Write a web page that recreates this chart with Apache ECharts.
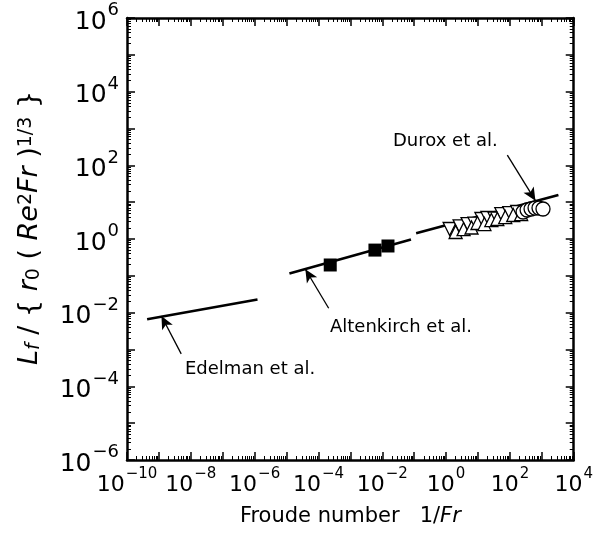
<!DOCTYPE html>
<html><head><meta charset="utf-8">
<script src="https://cdn.jsdelivr.net/npm/echarts@6/dist/echarts.min.js"></script>
<style>html,body{margin:0;padding:0;background:#fff}#c{width:596px;height:546px}</style>
</head><body><div id="c"></div>
<script>
// ---- axis ticks ----
const xDecades = [1e-10,1e-9,1e-8,1e-7,1e-6,1e-5,1e-4,1e-3,1e-2,1e-1,1,10,100,1000,1e4];
const xLabelTicks = [1e-10,1e-8,1e-6,1e-4,1e-2,1,100,1e4];
const yDecades = [1e-6,1e-5,1e-4,1e-3,1e-2,1e-1,1,10,100,1000,1e4,1e5,1e6];
const yLabelTicks = [1e-6,1e-4,1e-2,1,100,1e4,1e6];

// ---- data ----
const edelmanLine = [[4.27e-10, 0.0066], [1.23e-6, 0.0229]];
const altenkirchLine = [[1.23e-5, 0.116], [0.0794, 0.968]];
const duroxLine = [[0.115, 1.43], [3311, 15.6]];
const altenkirchSquares = [[2.34e-4, 0.197], [5.89e-3, 0.50], [0.0151, 0.646]];
const duroxTrianglesDown = [[1.29,1.87],[2.65,2.20],[4.70,2.55],[7.76,2.60],[12.8,3.49],[19.7,3.72],[32.5,3.60],[53.7,4.76],[95.3,5.07],[169,5.41]];
const duroxTrianglesUp = [[1.99,1.55],[3.53,1.85],[6.27,2.05],[9.62,2.72],[15.9,2.55],[26.2,3.27],[40.3,3.49],[71.4,3.95],[127,4.48],[225,4.76]];
const duroxCircles = [[259,5.41],[346,6.12],[460,6.52],[614,6.93],[817,6.93],[1089,6.52]];
// annotation arrows: [tail, head] in data units
const duroxArrow = [[83, 190], [631, 11.0]];
const altenkirchArrow = [[2.09e-4, 0.0132], [3.89e-5, 0.151]];
const edelmanArrow = [[5.0e-9, 7.6e-4], [1.2e-9, 8.1e-3]];

function minorTicks(decades) {
  const out = [];
  for (let i = 0; i < decades.length - 1; i++) {
    for (let k = 2; k <= 9; k++) out.push(k * decades[i]);
  }
  return out;
}
const xMinor = minorTicks(xDecades);
const yMinor = minorTicks(yDecades);

const FONT = 'DejaVu Sans';
function expLabel(v) {
  const e = Math.round(Math.log10(v));
  return '{b|10}{s|' + String(e).replace('-', '\u2212') + '}';
}
const xTickRich = {
  b: { fontSize: 22, fontFamily: FONT, color: '#000', padding: [7, 0, 0, 0] },
  s: { fontSize: 15, fontFamily: FONT, color: '#000', verticalAlign: 'top', padding: [0, 0, 0, 1] }
};
const yTickRich = {
  b: { fontSize: 25, fontFamily: FONT, color: '#000', padding: [8, 0, 0, 0] },
  s: { fontSize: 18, fontFamily: FONT, color: '#000', verticalAlign: 'top', padding: [0, 0, 0, 1] }
};

const black = '#000';
function axisBase(extra) {
  return Object.assign({
    type: 'log', logBase: 10,
    splitLine: { show: false },
    axisLine: { show: true, onZero: false, lineStyle: { color: black, width: 2.5 } },
  }, extra);
}

const xAxes = [
  axisBase({
    min: 1e-10, max: 1e4, position: 'bottom',
    axisTick: { inside: true, length: 8, customValues: xDecades, lineStyle: { color: black, width: 1.5 } },
    axisLabel: { customValues: xLabelTicks, formatter: expLabel, rich: xTickRich, margin: 7 },
    name: '{n|Froude number   1/}{i|Fr}',
    nameLocation: 'middle', nameGap: 46,
    nameTextStyle: { fontFamily: FONT, fontSize: 21, color: black,
      rich: { n: { fontFamily: FONT, fontSize: 21, color: black }, i: { fontFamily: FONT, fontSize: 21, fontStyle: 'italic', color: black } } }
  }),
  axisBase({ min: 1e-10, max: 1e4, position: 'bottom', axisLine: { show: false },
    axisTick: { inside: true, length: 4, customValues: xMinor, lineStyle: { color: black, width: 1 } },
    axisLabel: { show: false } }),
  axisBase({ min: 1e-10, max: 1e4, position: 'top',
    axisTick: { inside: true, length: 8, customValues: xDecades, lineStyle: { color: black, width: 1.5 } },
    axisLabel: { show: false } }),
  axisBase({ min: 1e-10, max: 1e4, position: 'top', axisLine: { show: false },
    axisTick: { inside: true, length: 4, customValues: xMinor, lineStyle: { color: black, width: 1 } },
    axisLabel: { show: false } })
];

const NS = 27, SS = 19;
const yNameRich = {
  n: { fontFamily: FONT, fontSize: NS, color: black, lineHeight: NS, padding: [6, 0, 5, 0] },
  i: { fontFamily: FONT, fontSize: NS, fontStyle: 'italic', color: black, lineHeight: NS, padding: [6, 0, 5, 0] },
  sub: { fontFamily: FONT, fontSize: SS, color: black, verticalAlign: 'bottom', lineHeight: SS },
  subi: { fontFamily: FONT, fontSize: SS, fontStyle: 'italic', color: black, verticalAlign: 'bottom', lineHeight: SS },
  sup: { fontFamily: FONT, fontSize: SS, color: black, verticalAlign: 'top', lineHeight: SS }
};

const yAxes = [
  axisBase({
    min: 1e-6, max: 1e6, position: 'left',
    axisTick: { inside: true, length: 8, customValues: yDecades, lineStyle: { color: black, width: 1.5 } },
    axisLabel: { customValues: yLabelTicks, formatter: expLabel, rich: yTickRich, margin: 8 },
    name: '{i|L}{subi|f}{n| / { }{i|r}{sub|0}{n| ( }{i|Re}{sup|2}{i|Fr}{n| )}{sup|1/3}{n| \u007d}',
    nameLocation: 'middle', nameGap: 79, nameRotate: 90,
    nameTextStyle: { fontFamily: FONT, fontSize: NS, color: black, rich: yNameRich, padding: [0, 0, 0, 22] }
  }),
  axisBase({ min: 1e-6, max: 1e6, position: 'left', axisLine: { show: false },
    axisTick: { inside: true, length: 4, customValues: yMinor, lineStyle: { color: black, width: 1 } },
    axisLabel: { show: false } }),
  axisBase({ min: 1e-6, max: 1e6, position: 'right',
    axisTick: { inside: true, length: 8, customValues: yDecades, lineStyle: { color: black, width: 1.5 } },
    axisLabel: { show: false } }),
  axisBase({ min: 1e-6, max: 1e6, position: 'right', axisLine: { show: false },
    axisTick: { inside: true, length: 4, customValues: yMinor, lineStyle: { color: black, width: 1 } },
    axisLabel: { show: false } })
];

function lineSeries(data) {
  return { type: 'line', data: data, showSymbol: false, symbol: 'none', silent: true,
    lineStyle: { color: black, width: 2.6 }, animation: false, z: 3 };
}
function arrowMark(arr) {
  return { silent: true, symbol: ['none', 'arrow'], symbolSize: [9, 13], animation: false,
    label: { show: false }, lineStyle: { color: black, width: 1.3, type: 'solid', opacity: 1 },
    itemStyle: { color: black, opacity: 1 },
    data: [[{ coord: arr[0] }, { coord: arr[1] }]] };
}

const series = [
  Object.assign(lineSeries(edelmanLine), { markLine: arrowMark(edelmanArrow) }),
  Object.assign(lineSeries(altenkirchLine), { markLine: arrowMark(altenkirchArrow) }),
  Object.assign(lineSeries(duroxLine), { markLine: arrowMark(duroxArrow) }),
  { type: 'scatter', data: altenkirchSquares, symbol: 'rect', symbolSize: 13, animation: false,
    itemStyle: { color: black, opacity: 1 }, z: 4 },
  { type: 'scatter', data: duroxTrianglesDown, symbol: 'triangle', symbolRotate: 180, symbolSize: 13, animation: false,
    itemStyle: { color: '#fff', borderColor: black, borderWidth: 1.3, opacity: 1 }, z: 4 },
  { type: 'scatter', data: duroxTrianglesUp, symbol: 'triangle', symbolSize: 13, animation: false,
    itemStyle: { color: '#fff', borderColor: black, borderWidth: 1.3, opacity: 1 }, z: 4 },
  { type: 'scatter', data: duroxCircles, symbol: 'circle', symbolSize: 14, animation: false,
    itemStyle: { color: '#fff', borderColor: black, borderWidth: 1.3, opacity: 1 }, z: 5 }
];

const annoStyle = { fontFamily: FONT, fontSize: 18, fill: black };
const chart = echarts.init(document.getElementById('c'), null, { renderer: 'canvas' });
chart.setOption({
  backgroundColor: '#fff',
  animation: false,
  grid: { left: 127, right: 19, top: 18, bottom: 86, containLabel: false },
  xAxis: xAxes,
  yAxis: yAxes,
  series: series,
  graphic: [
    { type: 'text', left: 393, top: 132, style: Object.assign({ text: 'Durox et al.' }, annoStyle) },
    { type: 'text', left: 330, top: 318, style: Object.assign({ text: 'Altenkirch et al.' }, annoStyle) },
    { type: 'text', left: 185, top: 360, style: Object.assign({ text: 'Edelman et al.' }, annoStyle) }
  ]
});
</script>
</body></html>
